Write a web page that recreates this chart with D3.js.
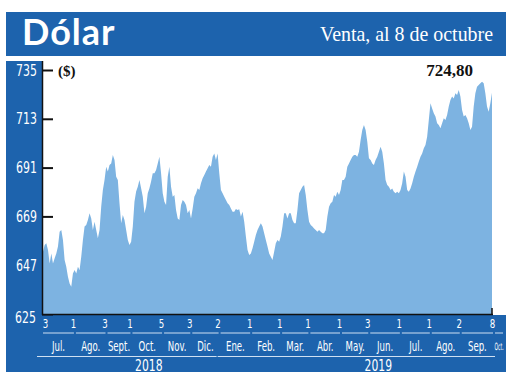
<!DOCTYPE html>
<html>
<head>
<meta charset="utf-8">
<script src="https://cdn.jsdelivr.net/npm/d3@7"></script>
<style>
  body { margin: 0; background: #fff; }
  .narrow { font-family: "Liberation Sans Narrow", "DejaVu Sans Condensed", "DejaVu Sans", sans-serif; }
</style>
</head>
<body>
<script>
  // Dollar selling rate (one point ~ one trading day)
  const values = [
    653.1, 656.1, 656.9, 653.9, 647.8, 652.3, 647.8, 650.1, 652.3, 655.4,
    662.1, 662.9, 658.4, 649.3, 646.3, 641.8, 638.8, 637.3, 643.3, 644.8,
    643.3, 646.3, 644.8, 650.8, 658.4, 664.4, 665.1, 667.4, 670.4, 668.1,
    662.9, 666.6, 662.9, 659.1, 662.9, 673.4, 680.9, 685.4, 691.4, 689.2,
    692.2, 692.9, 696.7, 694.4, 686.9, 685.4, 674.9, 665.9, 669.6, 667.4,
    662.9, 658.4, 656.1, 657.6, 664.4, 675.6, 680.2, 682.4, 685.4, 681.7,
    677.9, 670.4, 673.4, 679.4, 681.7, 684.7, 688.4, 688.4, 689.9, 692.9,
    695.9, 688.4, 679.4, 675.6, 674.1, 686.9, 691.4, 682.4, 677.9, 678.6,
    671.9, 668.1, 667.4, 674.1, 676.4, 675.6, 674.1, 670.4, 671.9, 668.1,
    672.6, 677.9, 679.4, 681.7, 680.9, 683.9, 686.2, 687.7, 689.2, 690.7,
    692.2, 691.4, 695.9, 697.4, 694.4, 697.4, 688.4, 680.9, 679.4, 677.9,
    676.4, 674.9, 674.1, 672.6, 671.1, 671.1, 672.3, 671.9, 672.2, 668.9,
    671.1, 666.6, 659.9, 653.9, 651.6, 652.3, 654.6, 657.6, 660.6, 662.9,
    664.4, 665.9, 664.4, 661.4, 658.4, 655.4, 652.3,
    650.8, 649.3, 653.1, 656.9, 658.4, 657.6, 659.9, 664.4, 670.4, 670.4,
    668.1, 670.4, 670.4, 667.4, 665.9, 665.9, 671.9, 679.4, 680.9, 682.4,
    683.2, 678.6, 671.9, 666.6, 665.1, 664.4, 663.6, 662.9, 662.1, 662.9,
    662.1, 661.4, 661.4, 662.9, 668.9, 673.4, 674.9, 675.6, 678.6, 677.9,
    680.1, 678.6, 680.9, 685.4, 685.4, 686.9, 691.4, 692.9, 694.4, 695.9,
    696.7, 696.7, 695.9, 698.2, 703.4, 708.0, 710.2, 708.0, 702.7, 695.2,
    694.4, 692.9, 692.2, 694.4, 695.9, 698.2, 700.4, 698.2, 692.9, 685.4,
    683.2, 682.4, 680.9, 681.6, 680.1, 679.4, 680.1, 679.4, 680.9, 683.9,
    689.2, 686.9, 680.9, 680.1, 681.6, 683.9, 686.9, 689.2, 691.4, 693.7,
    695.9, 697.4, 699.7, 701.2, 704.9, 712.5, 720.0, 717.7, 715.5, 714.0,
    711.0, 710.2, 708.7, 711.0, 713.2, 712.5, 714.7, 718.5, 721.5, 723.0,
    722.2, 724.5, 723.7, 726.0, 723.0, 717.0, 714.0, 714.7, 713.2, 711.0,
    708.0, 709.4, 718.5, 724.5, 727.5, 728.2, 729.0, 729.7, 729.0, 724.5,
    718.5, 716.2, 720.0, 724.8
  ];

  // first trading day of each month (index into values) and its day label
  const tickIdx = [0, 18, 37, 52, 71, 88, 105, 124, 142, 159, 178, 195, 214, 232, 250, 270];
  const tickDays = ["3", "1", "3", "1", "5", "3", "2", "1", "1", "1", "1", "3", "1", "1", "2", "8"];
  const months = ["Jul.", "Ago.", "Sept.", "Oct.", "Nov.", "Dic.", "Ene.", "Feb.", "Mar.", "Abr.",
                  "May.", "Jun.", "Jul.", "Ago.", "Sep.", "Oct."];
  const years = [{ label: "2018", from: 0, to: 6 }, { label: "2019", from: 6, to: 16 }];
  const yTicks = [625, 647, 669, 691, 713, 735];

  const W = 520, H = 376;
  const blue = "#1d63ad";
  const fill = "#7db3e1";

  // squeeze a text selection horizontally (the original uses a condensed face)
  function condense(sel, k) {
    sel.each(function () {
      const w = this.getComputedTextLength();
      if (w > 0) d3.select(this).attr("textLength", w * k).attr("lengthAdjust", "spacingAndGlyphs");
    });
  }

  const svg = d3.select("body").append("svg")
    .attr("width", W)
    .attr("height", H);

  svg.append("rect").attr("width", W).attr("height", H).attr("fill", "#fff");

  const x = d3.scaleLinear().domain([0, values.length - 1]).range([43, 492]);
  const y = d3.scaleLinear().domain([625, 735]).range([314, 70]);

  // header bar
  svg.append("rect").attr("x", 6).attr("y", 12).attr("width", 500).attr("height", 44).attr("fill", blue);
  svg.append("text")
    .attr("x", 22).attr("y", 45)
    .attr("fill", "#fff")
    .style("font-family", "Lato, 'Open Sans', sans-serif")
    .style("font-weight", "bold")
    .style("font-size", "36px")
    .style("letter-spacing", "1px")
    .text("Dólar");
  svg.append("text")
    .attr("x", 493).attr("y", 41)
    .attr("text-anchor", "end")
    .attr("fill", "#fff")
    .attr("textLength", 173)
    .attr("lengthAdjust", "spacingAndGlyphs")
    .style("font-family", "'Liberation Serif', 'DejaVu Serif', serif")
    .style("font-size", "21px")
    .text("Venta, al 8 de octubre");

  // left column and bottom band
  svg.append("rect").attr("x", 6).attr("y", 61).attr("width", 37).attr("height", 311).attr("fill", blue);
  svg.append("rect").attr("x", 6).attr("y", 315).attr("width", 500).attr("height", 57).attr("fill", blue);

  // y axis (ticks sit under the area)
  const yAxis = svg.append("g")
    .attr("transform", "translate(53,0)")
    .call(d3.axisLeft(y).tickValues(yTicks).tickSize(11).tickPadding(5));
  yAxis.select(".domain").remove();
  yAxis.selectAll("line").attr("stroke", "#111").attr("stroke-width", 2);
  yAxis.selectAll("text")
    .attr("class", "narrow")
    .attr("fill", "#fff")
    .style("font-size", "16px")
    .call(condense, 0.76);
  yAxis.selectAll(".tick").filter(d => d === 625).select("text").attr("dy", "0.55em").attr("x", -17);

  // area
  const area = d3.area()
    .x((d, i) => x(i))
    .y0(y(625))
    .y1(d => y(d));
  svg.append("path")
    .datum(values)
    .attr("d", area)
    .attr("fill", fill);

  // axis frame
  svg.append("line").attr("x1", 42.5).attr("x2", 42.5).attr("y1", 61).attr("y2", 315)
    .attr("stroke", "#111").attr("stroke-width", 1.5);
  svg.append("line").attr("x1", 42).attr("x2", 493).attr("y1", 314.5).attr("y2", 314.5)
    .attr("stroke", "#111").attr("stroke-width", 1.5);
  svg.append("line").attr("x1", x(values.length - 1)).attr("x2", x(values.length - 1)).attr("y1", 308).attr("y2", 315)
    .attr("stroke", "#111").attr("stroke-width", 1.5);

  // "($)" and last value
  svg.append("text")
    .attr("x", 58).attr("y", 76)
    .style("font-family", "'Liberation Serif', serif")
    .style("font-weight", "bold")
    .style("font-size", "15px")
    .attr("fill", "#111")
    .text("($)");
  svg.append("text")
    .attr("x", 473).attr("y", 76)
    .attr("text-anchor", "end")
    .style("font-family", "'Liberation Serif', serif")
    .style("font-weight", "bold")
    .style("font-size", "17px")
    .attr("fill", "#111")
    .text(d3.format(".2f")(values[values.length - 1]).replace(".", ","));

  // x axis: day of first trading day per month
  const xAxis = svg.append("g")
    .attr("transform", "translate(0,317)")
    .call(d3.axisBottom(x).tickValues(tickIdx).tickSize(0).tickPadding(2)
      .tickFormat((d, i) => tickDays[i]));
  xAxis.select(".domain").remove();
  xAxis.selectAll("text")
    .attr("class", "narrow")
    .attr("fill", "#fff")
    .style("font-size", "12px")
    .call(condense, 0.8);
  xAxis.selectAll(".tick").filter(d => d === 0).select("text").attr("x", 2);

  // month underlines and names
  const segs = tickIdx.map((t, i) => ({
    a: x(t) + (i === 0 ? 0 : 3),
    b: i < tickIdx.length - 1 ? x(tickIdx[i + 1]) + 1 : 503,
    name: months[i]
  }));
  const last = segs.length - 1;
  svg.append("g").selectAll("line").data(segs).join("line")
    .attr("x1", d => d.a).attr("x2", d => d.b)
    .attr("y1", 333).attr("y2", 333)
    .attr("stroke", "#cfe0f2").attr("stroke-width", 1);
  svg.append("g").selectAll("text").data(segs).join("text")
    .attr("class", "narrow")
    .attr("transform", (d, i) => i < last
      ? `translate(${(d.a + d.b) / 2},351) scale(0.68,1)`
      : "translate(499,350) scale(0.5,1)")
    .attr("text-anchor", "middle")
    .attr("fill", "#fff")
    .style("font-size", (d, i) => i < last ? "14px" : "10px")
    .text(d => d.name);

  // years
  const yr = years.map(d => ({
    label: d.label,
    a: d.from === 0 ? 37 : segs[d.from].a - 3,
    b: d.to < segs.length ? segs[d.to].a - 4 : 495
  }));
  svg.append("g").selectAll("line").data(yr).join("line")
    .attr("x1", d => d.a).attr("x2", d => d.b)
    .attr("y1", 356.5).attr("y2", 356.5)
    .attr("stroke", "#cfe0f2").attr("stroke-width", 1);
  svg.append("g").selectAll("text").data(yr).join("text")
    .attr("class", "narrow")
    .attr("x", d => (d.a + d.b) / 2 + 22)
    .attr("y", 371)
    .attr("text-anchor", "middle")
    .attr("fill", "#fff")
    .style("font-size", "15px")
    .text(d => d.label)
    .call(condense, 0.8);
</script>
</body>
</html>
